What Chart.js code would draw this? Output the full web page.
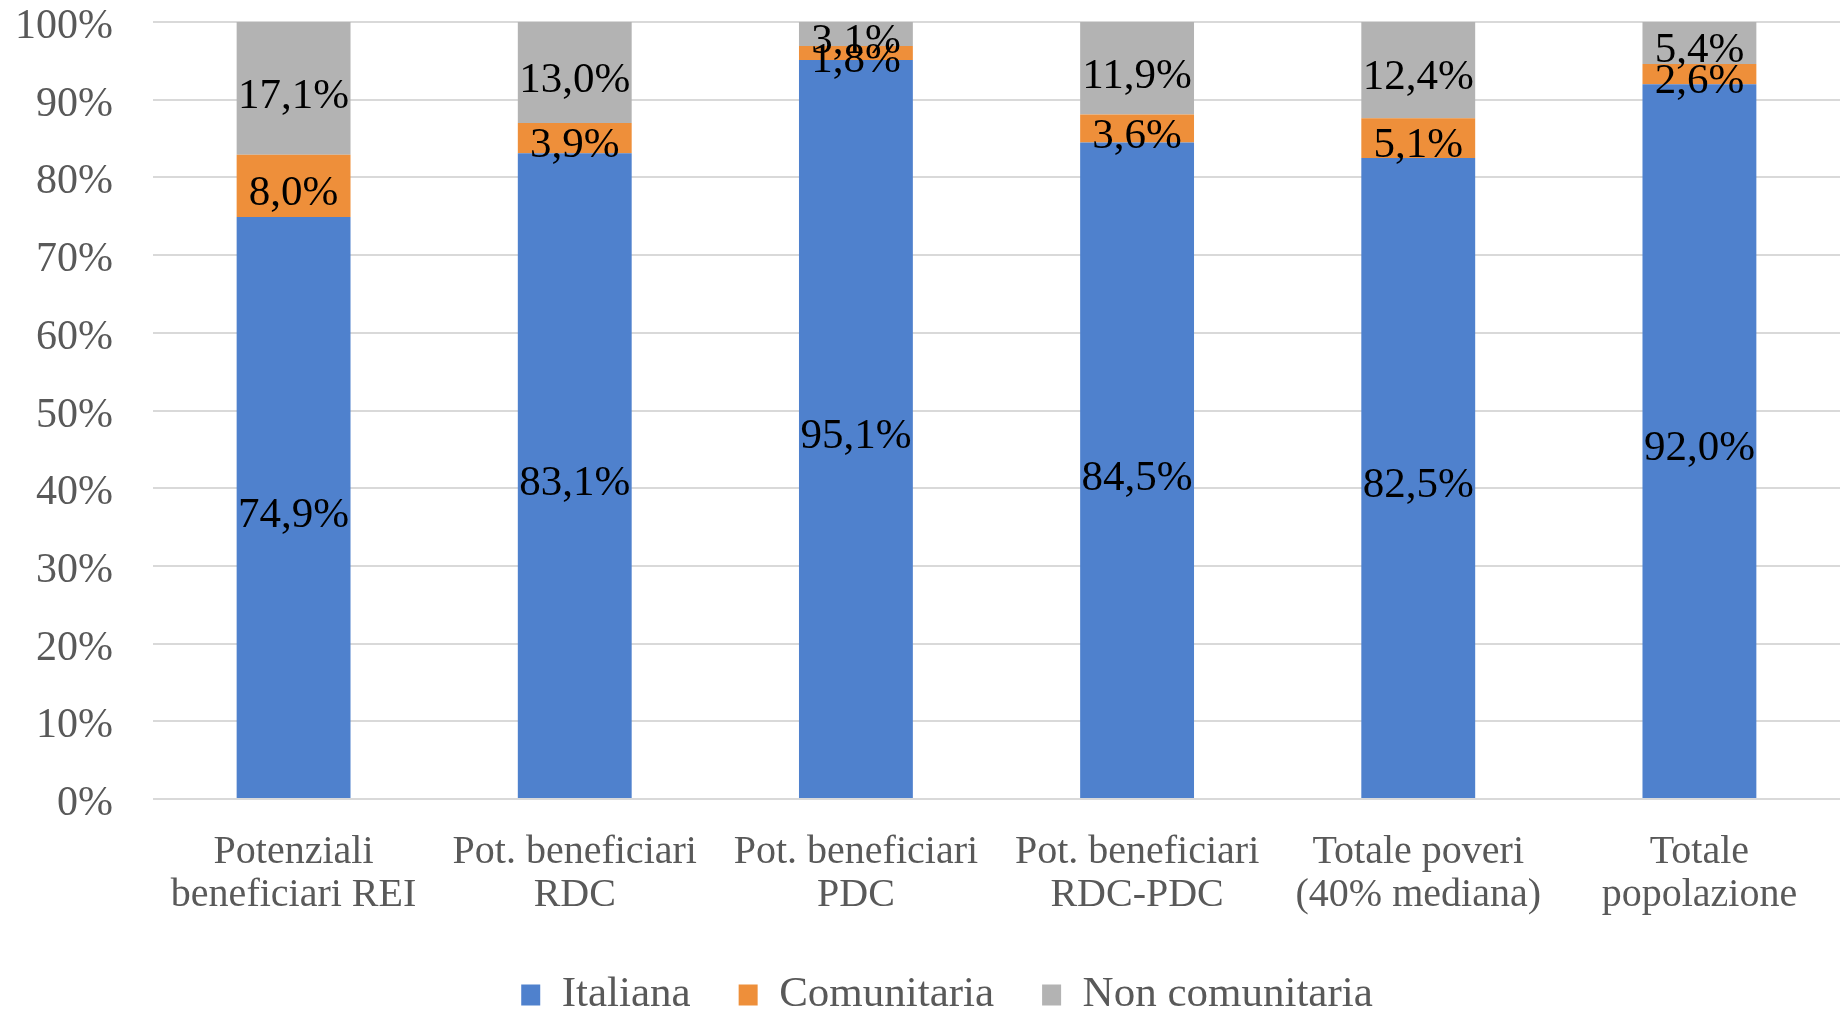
<!DOCTYPE html>
<html>
<head>
<meta charset="utf-8">
<script src="https://cdn.jsdelivr.net/npm/chart.js@4.4.1/dist/chart.umd.min.js"></script>
<style>
  html, body { margin: 0; padding: 0; background: #fff; }
  #wrap { width: 1843px; height: 1012px; position: relative; }
</style>
</head>
<body>
<div id="wrap"><canvas id="chart"></canvas></div>
<script>
// categorie (asse x, due righe)
const categorie = [
  ['Potenziali', 'beneficiari REI'],
  ['Pot. beneficiari', 'RDC'],
  ['Pot. beneficiari', 'PDC'],
  ['Pot. beneficiari', 'RDC-PDC'],
  ['Totale poveri', '(40% mediana)'],
  ['Totale', 'popolazione']
];
const italiana = [74.9, 83.1, 95.1, 84.5, 82.5, 92.0];
const comunitaria = [8.0, 3.9, 1.8, 3.6, 5.1, 2.6];
const nonComunitaria = [17.1, 13.0, 3.1, 11.9, 12.4, 5.4];
const yTicks = [0, 10, 20, 30, 40, 50, 60, 70, 80, 90, 100];

const FONT = '"Liberation Serif", "Times New Roman", serif';
const GRIGIO = '#595959';

// etichette dei valori al centro di ogni segmento
const etichette = {
  id: 'etichette',
  afterDatasetsDraw(chart) {
    const ctx = chart.ctx;
    ctx.save();
    ctx.font = '43px ' + FONT;
    ctx.fillStyle = '#000';
    ctx.textAlign = 'center';
    ctx.textBaseline = 'middle';
    chart.data.datasets.forEach((ds, i) => {
      chart.getDatasetMeta(i).data.forEach((bar, j) => {
        const txt = ds.data[j].toFixed(1).replace('.', ',') + '%';
        ctx.fillText(txt, bar.x, (bar.y + bar.base) / 2 + 8);
      });
    });
    ctx.restore();
  }
};

// sposta un po' la legenda come nell'originale
const spostaLegenda = {
  id: 'spostaLegenda',
  afterLayout(chart) {
    chart.legend.left += 27;
    chart.legend.right += 27;
  }
};

new Chart(document.getElementById('chart'), {
  type: 'bar',
  data: {
    labels: categorie,
    datasets: [
      { label: 'Italiana', data: italiana, backgroundColor: '#4F81CD' },
      { label: 'Comunitaria', data: comunitaria, backgroundColor: '#EE8F3A' },
      { label: 'Non comunitaria', data: nonComunitaria, backgroundColor: '#B3B3B3' }
    ]
  },
  options: {
    responsive: true,
    maintainAspectRatio: false,
    devicePixelRatio: 1,
    animation: false,
    layout: { padding: { top: 22, right: 3, left: 0, bottom: -14.5 } },
    datasets: { bar: { categoryPercentage: 1, barPercentage: 0.405 } },
    scales: {
      x: {
        stacked: true,
        grid: { display: false },
        border: { display: false },
        ticks: {
          color: GRIGIO,
          font: { family: FONT, size: 40, lineHeight: 1.08 },
          padding: 24,
          maxRotation: 0,
          autoSkip: false
        },
        afterFit(scale) { scale.height = 126.5; }
      },
      y: {
        stacked: true,
        min: 0,
        max: 100,
        afterBuildTicks(scale) { scale.ticks = yTicks.map(v => ({ value: v })); },
        grid: { color: '#D9D9D9', lineWidth: 2, drawTicks: false },
        border: { display: false },
        ticks: {
          color: GRIGIO,
          font: { family: FONT, size: 42, lineHeight: 1 },
          padding: 40,
          labelOffset: 5,
          callback: v => v + '%'
        },
        afterFit(scale) {
          scale.width = 153;
          scale.paddingTop = 0;
          scale.paddingBottom = 0;
        }
      }
    },
    plugins: {
      tooltip: { enabled: false },
      legend: {
        position: 'bottom',
        labels: {
          color: GRIGIO,
          font: { family: FONT, size: 43 },
          boxWidth: 19,
          boxHeight: 21,
          padding: 48
        }
      }
    }
  },
  plugins: [etichette, spostaLegenda]
});
</script>
</body>
</html>
